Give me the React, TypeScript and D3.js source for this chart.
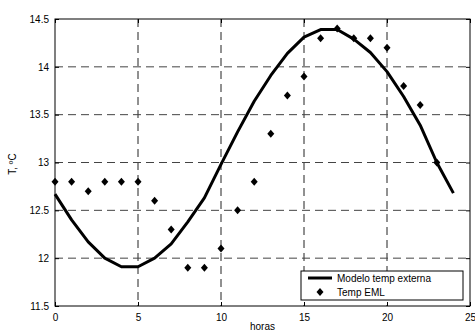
import React, { useRef, useEffect } from "react";
import * as d3 from "d3";

const horas = d3.range(0, 25);
const modelo = [12.67, 12.4, 12.17, 12.0, 11.91, 11.91, 12.0, 12.15, 12.38, 12.63, 12.98, 13.32, 13.64, 13.91, 14.14, 14.31, 14.39, 14.39, 14.29, 14.15, 13.95, 13.69, 13.39, 13.0, 12.68];
const emlHoras = d3.range(0, 24);
const eml = [12.8, 12.8, 12.7, 12.8, 12.8, 12.8, 12.6, 12.3, 11.9, 11.9, 12.1, 12.5, 12.8, 13.3, 13.7, 13.9, 14.3, 14.4, 14.3, 14.3, 14.2, 13.8, 13.6, 13.0];
const xTicks = [0, 5, 10, 15, 20, 25];
const yTicks = [11.5, 12, 12.5, 13, 13.5, 14, 14.5];
const legendLabels = ["Modelo temp externa", "Temp EML"];

const App = () => {
    const svgRef = useRef(null);
    const width = 475;
    const height = 331;
    const left = 55, right = 470, top = 19, bottom = 306;

    useEffect(() => {
        const svg = d3.select(svgRef.current);
        svg.selectAll("*").remove();
        const font = "Liberation Sans, Arial, sans-serif";

        const x = d3.scaleLinear().domain([0, 25]).range([left, right]);
        const y = d3.scaleLinear().domain([11.5, 14.5]).range([bottom, top]);

        // grid
        svg.append("g").selectAll("line").data(xTicks.slice(1, -1)).join("line")
            .attr("x1", d => x(d)).attr("x2", d => x(d))
            .attr("y1", top).attr("y2", bottom)
            .attr("stroke", "#222").attr("stroke-width", 1)
            .attr("stroke-dasharray", "8,5");
        svg.append("g").selectAll("line").data(yTicks.slice(1, -1)).join("line")
            .attr("x1", left).attr("x2", right)
            .attr("y1", d => y(d)).attr("y2", d => y(d))
            .attr("stroke", "#444").attr("stroke-width", 1)
            .attr("stroke-dasharray", "8,5");

        // axes
        const xAxis = d3.axisBottom(x).tickValues(xTicks).tickSize(-4).tickPadding(8).tickFormat(d3.format("d"));
        const yAxis = d3.axisLeft(y).tickValues(yTicks).tickSize(-4).tickPadding(6).tickFormat(d => String(d));
        const gx = svg.append("g").attr("transform", `translate(0,${bottom})`).call(xAxis);
        const gy = svg.append("g").attr("transform", `translate(${left},0)`).call(yAxis);
        svg.append("g").attr("transform", `translate(0,${top})`)
            .call(d3.axisTop(x).tickValues(xTicks).tickSize(-4).tickFormat(() => ""));
        svg.append("g").attr("transform", `translate(${right},0)`)
            .call(d3.axisRight(y).tickValues(yTicks).tickSize(-4).tickFormat(() => ""));
        svg.selectAll(".domain").remove();
        svg.selectAll(".tick line").attr("stroke", "#000");
        [gx, gy].forEach(g => g.selectAll("text")
            .attr("font-family", font).attr("font-size", 10).attr("fill", "#000"));

        svg.append("rect")
            .attr("x", left).attr("y", top)
            .attr("width", right - left).attr("height", bottom - top)
            .attr("fill", "none").attr("stroke", "#000").attr("stroke-width", 1);

        // model line
        const line = d3.line<number>()
            .x((d, i) => x(horas[i]))
            .y(d => y(d));
        svg.append("path")
            .datum(modelo)
            .attr("fill", "none")
            .attr("stroke", "#000")
            .attr("stroke-width", 3)
            .attr("stroke-linejoin", "round")
            .attr("d", line);

        // diamonds
        const diamond = (cx, cy) => `M${cx},${cy - 4}L${cx + 3.5},${cy}L${cx},${cy + 4}L${cx - 3.5},${cy}Z`;
        svg.append("g").selectAll("path").data(eml).join("path")
            .attr("d", (d, i) => diamond(x(emlHoras[i]), y(d)))
            .attr("fill", "#000");

        // labels
        svg.append("text")
            .attr("transform", `translate(16,164) rotate(-90)`)
            .attr("text-anchor", "middle")
            .attr("font-family", font).attr("font-size", 10)
            .text("T, ºC");
        svg.append("text")
            .attr("x", (left + right) / 2).attr("y", 330)
            .attr("text-anchor", "middle")
            .attr("font-family", font).attr("font-size", 10)
            .text("horas");

        // legend
        const lg = svg.append("g");
        lg.append("rect")
            .attr("x", 301).attr("y", 271).attr("width", 162).attr("height", 29)
            .attr("fill", "#fff").attr("stroke", "#000").attr("stroke-width", 1);
        lg.append("line")
            .attr("x1", 308).attr("x2", 332).attr("y1", 278).attr("y2", 278)
            .attr("stroke", "#000").attr("stroke-width", 3);
        lg.append("path").attr("d", diamond(320, 292)).attr("fill", "#000");
        lg.selectAll("text").data(legendLabels).join("text")
            .attr("x", 337).attr("y", (d, i) => 281.5 + i * 14)
            .attr("font-family", font).attr("font-size", 10)
            .text(d => d);
    }, []);

    return (
        <div style={{ position: "absolute", left: 0, top: 0 }}>
            <svg ref={svgRef} width={width} height={height} style={{ display: "block", background: "#fff" }}>
            </svg>
        </div>
    );
};

export default App;
